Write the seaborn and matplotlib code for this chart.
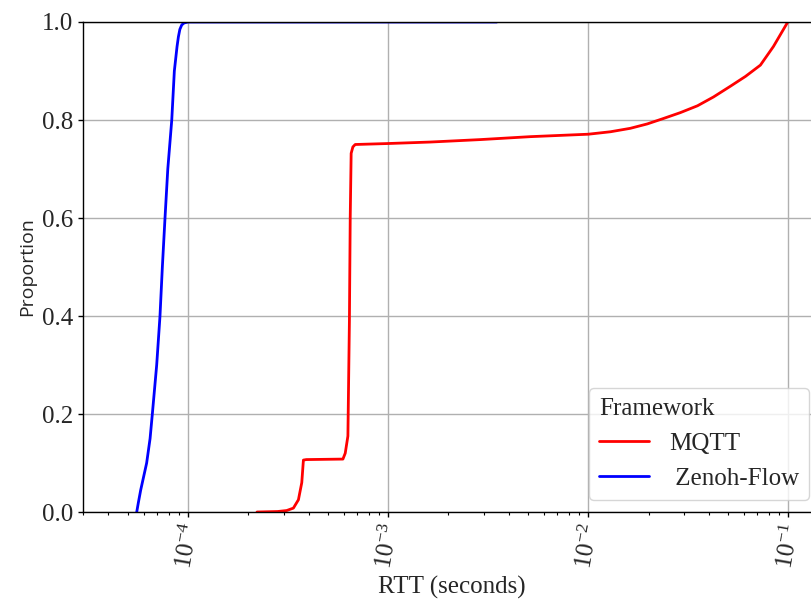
import numpy as np
import pandas as pd
import matplotlib
matplotlib.use("Agg")
import matplotlib.pyplot as plt
import seaborn as sns

# RTT (seconds) vs cumulative proportion
mqtt_rtt = [2.21e-4, 2.8e-4, 3.11e-4, 3.36e-4, 3.56e-4, 3.70e-4, 3.77e-4, 3.9e-4,
            5.94e-4, 6.10e-4, 6.29e-4, 6.40e-4, 6.46e-4, 6.53e-4, 6.66e-4, 6.84e-4,
            1.0e-3, 1.62e-3, 2.88e-3, 5.13e-3, 1.0e-2, 1.29e-2, 1.62e-2, 1.97e-2,
            2.37e-2, 2.88e-2, 3.51e-2, 4.22e-2, 5.13e-2, 6.10e-2, 7.24e-2, 8.41e-2,
            9.92e-2]
mqtt_prop = [0.0, 0.001, 0.003, 0.008, 0.025, 0.06, 0.106, 0.107,
             0.108, 0.120, 0.155, 0.39, 0.60, 0.732, 0.745, 0.750,
             0.752, 0.755, 0.760, 0.766, 0.771, 0.776, 0.783, 0.792,
             0.803, 0.815, 0.829, 0.847, 0.869, 0.889, 0.912, 0.950,
             1.0]

zenoh_rtt = [5.54e-5, 5.65e-5, 5.8e-5, 6.21e-5, 6.46e-5, 6.63e-5, 6.97e-5, 7.24e-5,
             7.44e-5, 7.67e-5, 7.92e-5, 8.29e-5, 8.54e-5, 8.81e-5, 8.95e-5, 9.1e-5,
             9.3e-5, 9.55e-5, 1.0e-4, 3.49e-3]
zenoh_prop = [0.0, 0.02, 0.045, 0.10, 0.15, 0.20, 0.30, 0.40,
              0.50, 0.60, 0.70, 0.80, 0.90, 0.95, 0.97, 0.985,
              0.994, 0.998, 1.0, 1.0]

frameworks = ["MQTT", "Zenoh-Flow"]
legend_labels = ["MQTT", " Zenoh-Flow"]

df = pd.concat([
    pd.DataFrame({"RTT": mqtt_rtt, "Proportion": mqtt_prop, "Framework": "MQTT"}),
    pd.DataFrame({"RTT": zenoh_rtt, "Proportion": zenoh_prop, "Framework": "Zenoh-Flow"}),
])

sns.set_style("ticks")
plt.rcParams["font.family"] = ["Liberation Serif", "DejaVu Serif"]
plt.rcParams["mathtext.fontset"] = "stix"
plt.rcParams["font.size"] = 18

fig = plt.figure(figsize=(8.12, 6.06), dpi=100)
ax = fig.add_axes([0.1022, 0.1551, 0.9095, 0.8086])

sns.lineplot(data=df, x="RTT", y="Proportion", hue="Framework", hue_order=frameworks,
             palette={"MQTT": "red", "Zenoh-Flow": "blue"}, linewidth=2,
             estimator=None, ax=ax)

ax.set_xscale("log")
ax.set_xlim(10 ** -4.525, 10 ** -0.835)
ax.set_ylim(0, 1)
ax.set_yticks([0.0, 0.2, 0.4, 0.6, 0.8, 1.0])
ax.grid(True, which="major", color="#b0b0b0", linewidth=1)
ax.tick_params(axis="both", which="major", labelsize=18, length=3.5, width=1, color="black")
ax.tick_params(axis="x", which="minor", length=2, width=0.8, color="black")
for lab in ax.get_xticklabels():
    lab.set_rotation(80)
for s in ax.spines.values():
    s.set_color("black")
    s.set_linewidth(1)

ax.set_xlabel("RTT (seconds)", fontsize=18)
ax.set_ylabel("Proportion", fontsize=14, family=["Open Sans", "DejaVu Sans"])

handles, _ = ax.get_legend_handles_labels()
leg = ax.legend(handles, legend_labels, title="Framework", loc="lower right",
                fontsize=18, title_fontsize=18)
leg._legend_box.align = "left"

fig.savefig("out.png", dpi=100)
